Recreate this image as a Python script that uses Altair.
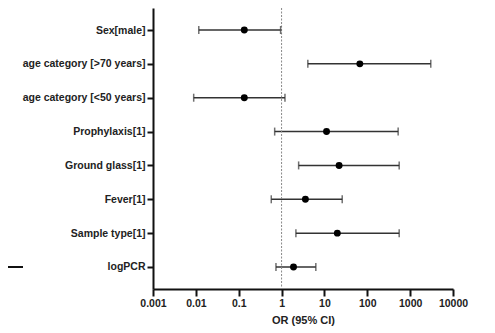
import altair as alt
import pandas as pd

labels = ["Sex[male]", "age category [>70 years]", "age category [<50 years]",
          "Prophylaxis[1]", "Ground glass[1]", "Fever[1]", "Sample type[1]", "logPCR"]
or_est = [0.135, 67, 0.135, 11.2, 22, 3.6, 20, 1.9]
ci_low = [0.0117, 4.1, 0.0089, 0.69, 2.5, 0.575, 2.16, 0.74]
ci_high = [0.95, 3030, 1.2, 525, 555, 26, 555, 6.3]
ticks = [0.001, 0.01, 0.1, 1, 10, 100, 1000, 10000]

df = pd.DataFrame({"label": labels, "or": or_est, "lo": ci_low, "hi": ci_high})

FONT = "Liberation Sans"
W, H = 300, 281
AXC = "#111111"

xscale = alt.Scale(type="log", domain=[0.001, 10000], nice=False)
yscale = alt.Scale(type="point", domain=labels, padding=0.65)

xaxis = alt.Axis(values=ticks, format="~g", title="OR (95% CI)", tickSize=7,
                 labelPadding=2, labelFlush=False, titleFontSize=11, titlePadding=6)
yaxis = alt.Axis(title=None, tickSize=6, labelPadding=2)

X = lambda f: alt.X(f, type="quantitative", scale=xscale, axis=xaxis)
Y = alt.Y("label", type="nominal", scale=yscale, axis=yaxis, sort=labels)

base = alt.Chart(df)

ci = base.mark_rule(color="#333", strokeWidth=1.5).encode(x=X("lo"), x2="hi", y=Y)
cap_lo = base.mark_tick(color="#333", orient="vertical", size=8, thickness=1.5).encode(x=X("lo"), y=Y)
cap_hi = base.mark_tick(color="#333", orient="vertical", size=8, thickness=1.5).encode(x=X("hi"), y=Y)
pts = base.mark_circle(color="#000", size=48, opacity=1).encode(x=X("or"), y=Y)

ref = alt.Chart(pd.DataFrame({"v": [1]})).mark_rule(
    color="#888", strokeDash=[2, 1.5], strokeWidth=1).encode(x=X("v"))

deco = alt.Chart(pd.DataFrame({"label": ["logPCR"]})).mark_rule(
    color="#111", strokeWidth=2).encode(
    x=alt.value(-145), x2=alt.value(-130), y=Y)

chart = alt.layer(ci, ref, cap_lo, cap_hi, pts, deco).properties(
    width=W, height=H,
    autosize=alt.AutoSizeParams(type="none"),
    padding={"left": 145, "top": 0, "right": 30, "bottom": 44},
).configure_view(strokeWidth=0).configure_axis(
    domain=True, domainColor=AXC, domainWidth=2, ticks=True, tickColor=AXC,
    tickWidth=2, grid=False, labelFont=FONT, labelFontSize=10.5,
    labelFontWeight="bold", labelColor="#222222", titleFont=FONT,
    titleFontWeight="bold", titleColor="#222222",
)

chart.save("out.html", embed_options={"renderer": "svg", "actions": False})
